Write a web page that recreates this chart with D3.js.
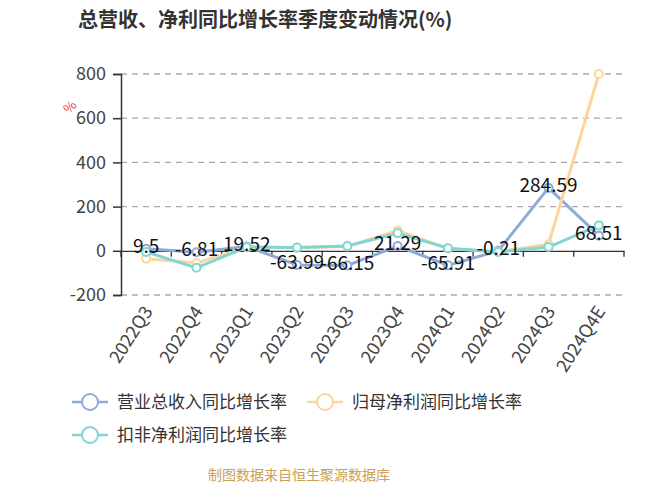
<!DOCTYPE html>
<html><head><meta charset="utf-8">
<script src="https://cdn.jsdelivr.net/npm/d3@7"></script>
<style>body{margin:0;background:#fff;} svg{display:block;}</style>
</head><body>
<svg id="c" width="650" height="488"></svg>
<script>
const categories = ["2022Q3","2022Q4","2023Q1","2023Q2","2023Q3","2023Q4","2024Q1","2024Q2","2024Q3","2024Q4E"];
const revenueGrowth = [9.5, -6.81, 19.52, -63.99, -66.15, 21.29, -65.91, -0.21, 284.59, 68.51];
const netProfitGrowth = [-36, -55, 15, 14, 20, 92, 10, -4, 30, 800];
const deductedProfitGrowth = [-5, -77, 17, 15, 22, 80, 12, -5, 17, 115];
const yTicks = [-200, 0, 200, 400, 600, 800];
const seriesNames = ["营业总收入同比增长率", "归母净利润同比增长率", "扣非净利润同比增长率"];
const colors = ["#8eaadb", "#fdd59c", "#7fd6d4"];

(function () {
const svg = d3.select("#c");
const font = "'Noto Sans CJK SC', 'Noto Sans', sans-serif";
const pLeft = 121, pRight = 624, pTop = 74, pBottom = 295;

const x = d3.scaleBand().domain(categories).range([pLeft, pRight]);
const y = d3.scaleLinear().domain([-200, 800]).range([pBottom, pTop]);

// title
svg.append("text").attr("x", 78).attr("y", 27).attr("font-family", font)
  .attr("font-size", 20).attr("font-weight", "bold").attr("fill", "#333")
  .text("总营收、净利同比增长率季度变动情况(%)");

// grid
svg.append("g").selectAll("line").data(yTicks.filter(d => d !== 0)).join("line")
  .attr("x1", pLeft).attr("x2", pRight).attr("y1", d => y(d)).attr("y2", d => y(d))
  .attr("stroke", "#aaa").attr("stroke-width", 1.3).attr("stroke-dasharray", "6,5");

// y axis
const yAxis = svg.append("g").attr("transform", `translate(${pLeft},0)`)
  .call(d3.axisLeft(y).tickValues(yTicks).tickSize(8).tickPadding(7).tickFormat(d => String(d)));
yAxis.select(".domain").attr("stroke", "#333").attr("stroke-width", 1.5);
yAxis.selectAll(".tick line").attr("stroke", "#333").attr("stroke-width", 1.5);
yAxis.selectAll("text").attr("font-family", font).attr("font-size", 18).attr("fill", "#444");

// x axis at zero
const xAxis = svg.append("g").attr("transform", `translate(0,${y(0)})`)
  .call(d3.axisBottom(x).tickSize(0).tickFormat(""));
xAxis.select(".domain").attr("stroke", "#333").attr("stroke-width", 1.3);
const bounds = categories.map(c => x(c)).concat([pRight]);
svg.append("g").selectAll("line").data(bounds).join("line")
  .attr("x1", d => d).attr("x2", d => d).attr("y1", y(0)).attr("y2", y(0) + 6)
  .attr("stroke", "#333").attr("stroke-width", 1.3);

// x labels
svg.append("g").selectAll("text").data(categories).join("text")
  .attr("transform", d => `translate(${x(d) + x.bandwidth() / 2 + 2},${pBottom + 13}) rotate(-57)`)
  .attr("text-anchor", "end").attr("dy", "0.35em")
  .attr("font-family", font).attr("font-size", 18).attr("fill", "#444").text(d => d);

// % unit
svg.append("text").attr("transform", `translate(70,107) rotate(-45)`)
  .attr("text-anchor", "middle").attr("dy", "0.35em")
  .attr("font-family", font).attr("font-size", 13).attr("fill", "#e8412f").text("%");

// lines
const allSeries = [revenueGrowth, netProfitGrowth, deductedProfitGrowth];
const line = d3.line().x((d, i) => x(categories[i]) + x.bandwidth() / 2).y(d => y(d));
allSeries.forEach((s, k) => {
  svg.append("path").datum(s).attr("d", line).attr("fill", "none")
    .attr("stroke", colors[k]).attr("stroke-width", 3).attr("stroke-linejoin", "round");
  svg.append("g").selectAll("circle").data(s).join("circle")
    .attr("cx", (d, i) => x(categories[i]) + x.bandwidth() / 2).attr("cy", d => y(d))
    .attr("r", 4).attr("fill", "#fff").attr("stroke", colors[k]).attr("stroke-width", 2);
});

// value labels for revenue
svg.append("g").selectAll("text").data(revenueGrowth).join("text")
  .attr("x", (d, i) => x(categories[i]) + x.bandwidth() / 2)
  .attr("y", d => y(d) - 2.5).attr("dy", "0.35em").attr("text-anchor", "middle")
  .attr("font-family", font).attr("font-size", 19).attr("fill", "#111")
  .text(d => String(d));

// legend
const legendPos = [[72, 402], [307, 402], [72, 435]];
seriesNames.forEach((n, k) => {
  const [lx, ly] = legendPos[k];
  const g = svg.append("g");
  g.append("line").attr("x1", lx).attr("x2", lx + 36).attr("y1", ly).attr("y2", ly)
    .attr("stroke", colors[k]).attr("stroke-width", 2.5);
  g.append("circle").attr("cx", lx + 18).attr("cy", ly).attr("r", 8)
    .attr("fill", "#fff").attr("stroke", colors[k]).attr("stroke-width", 2);
  g.append("text").attr("x", lx + 45).attr("y", ly).attr("dy", "0.35em")
    .attr("font-family", font).attr("font-size", 17).attr("fill", "#333").text(n);
});

// footer
svg.append("text").attr("x", 299).attr("y", 480).attr("text-anchor", "middle")
  .attr("font-family", font).attr("font-size", 14).attr("fill", "#c9a055")
  .text("制图数据来自恒生聚源数据库");
})();
</script>
</body></html>
